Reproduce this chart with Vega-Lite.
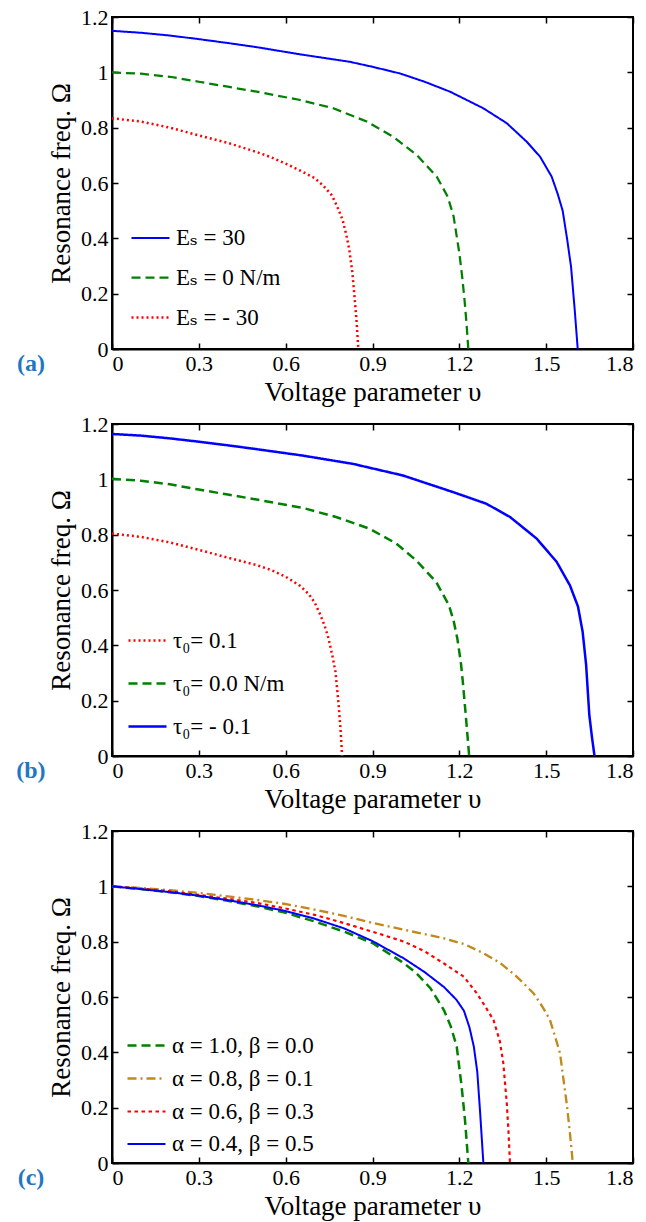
{
  "$schema": "https://vega.github.io/schema/vega-lite/v6.json",
  "padding": {"left": 15, "top": 5, "right": 5, "bottom": 5},
  "spacing": 6,
  "datasets": {
    "a": [
      {"v":0,"w":1.15,"s":"Eₛ = 30"},{"v":0.1,"w":1.143,"s":"Eₛ = 30"},{"v":0.2,"w":1.133,"s":"Eₛ = 30"},{"v":0.3,"w":1.12,"s":"Eₛ = 30"},{"v":0.4,"w":1.106,"s":"Eₛ = 30"},{"v":0.5,"w":1.091,"s":"Eₛ = 30"},{"v":0.65,"w":1.065,"s":"Eₛ = 30"},{"v":0.822,"w":1.038,"s":"Eₛ = 30"},{"v":0.9,"w":1.02,"s":"Eₛ = 30"},{"v":0.995,"w":0.996,"s":"Eₛ = 30"},{"v":1.08,"w":0.966,"s":"Eₛ = 30"},{"v":1.168,"w":0.93,"s":"Eₛ = 30"},{"v":1.283,"w":0.87,"s":"Eₛ = 30"},{"v":1.364,"w":0.816,"s":"Eₛ = 30"},{"v":1.433,"w":0.749,"s":"Eₛ = 30"},{"v":1.479,"w":0.695,"s":"Eₛ = 30"},{"v":1.519,"w":0.623,"s":"Eₛ = 30"},{"v":1.54,"w":0.56,"s":"Eₛ = 30"},{"v":1.557,"w":0.5,"s":"Eₛ = 30"},{"v":1.572,"w":0.4,"s":"Eₛ = 30"},{"v":1.586,"w":0.297,"s":"Eₛ = 30"},{"v":1.598,"w":0.15,"s":"Eₛ = 30"},{"v":1.609,"w":0,"s":"Eₛ = 30"},
      {"v":0,"w":1.0,"s":"Eₛ = 0 N/m"},{"v":0.1,"w":0.995,"s":"Eₛ = 0 N/m"},{"v":0.2,"w":0.984,"s":"Eₛ = 0 N/m"},{"v":0.3,"w":0.966,"s":"Eₛ = 0 N/m"},{"v":0.4,"w":0.948,"s":"Eₛ = 0 N/m"},{"v":0.5,"w":0.93,"s":"Eₛ = 0 N/m"},{"v":0.6,"w":0.91,"s":"Eₛ = 0 N/m"},{"v":0.65,"w":0.9,"s":"Eₛ = 0 N/m"},{"v":0.765,"w":0.87,"s":"Eₛ = 0 N/m"},{"v":0.88,"w":0.822,"s":"Eₛ = 0 N/m"},{"v":0.972,"w":0.767,"s":"Eₛ = 0 N/m"},{"v":1.053,"w":0.701,"s":"Eₛ = 0 N/m"},{"v":1.122,"w":0.623,"s":"Eₛ = 0 N/m"},{"v":1.16,"w":0.55,"s":"Eₛ = 0 N/m"},{"v":1.18,"w":0.48,"s":"Eₛ = 0 N/m"},{"v":1.2,"w":0.347,"s":"Eₛ = 0 N/m"},{"v":1.21,"w":0.26,"s":"Eₛ = 0 N/m"},{"v":1.218,"w":0.177,"s":"Eₛ = 0 N/m"},{"v":1.225,"w":0.09,"s":"Eₛ = 0 N/m"},{"v":1.231,"w":0,"s":"Eₛ = 0 N/m"},
      {"v":0,"w":0.834,"s":"Eₛ = - 30"},{"v":0.1,"w":0.822,"s":"Eₛ = - 30"},{"v":0.2,"w":0.8,"s":"Eₛ = - 30"},{"v":0.3,"w":0.772,"s":"Eₛ = - 30"},{"v":0.4,"w":0.745,"s":"Eₛ = - 30"},{"v":0.5,"w":0.712,"s":"Eₛ = - 30"},{"v":0.55,"w":0.693,"s":"Eₛ = - 30"},{"v":0.6,"w":0.67,"s":"Eₛ = - 30"},{"v":0.65,"w":0.645,"s":"Eₛ = - 30"},{"v":0.7,"w":0.618,"s":"Eₛ = - 30"},{"v":0.73,"w":0.59,"s":"Eₛ = - 30"},{"v":0.76,"w":0.555,"s":"Eₛ = - 30"},{"v":0.78,"w":0.51,"s":"Eₛ = - 30"},{"v":0.797,"w":0.466,"s":"Eₛ = - 30"},{"v":0.81,"w":0.41,"s":"Eₛ = - 30"},{"v":0.82,"w":0.358,"s":"Eₛ = - 30"},{"v":0.83,"w":0.28,"s":"Eₛ = - 30"},{"v":0.837,"w":0.2,"s":"Eₛ = - 30"},{"v":0.845,"w":0.1,"s":"Eₛ = - 30"},{"v":0.851,"w":0,"s":"Eₛ = - 30"}
    ],
    "b": [
      {"v":0,"w":1.164,"s":"τ₀= - 0.1"},{"v":0.1,"w":1.158,"s":"τ₀= - 0.1"},{"v":0.2,"w":1.148,"s":"τ₀= - 0.1"},{"v":0.3,"w":1.136,"s":"τ₀= - 0.1"},{"v":0.4,"w":1.123,"s":"τ₀= - 0.1"},{"v":0.5,"w":1.109,"s":"τ₀= - 0.1"},{"v":0.658,"w":1.086,"s":"τ₀= - 0.1"},{"v":0.832,"w":1.056,"s":"τ₀= - 0.1"},{"v":1.005,"w":1.014,"s":"τ₀= - 0.1"},{"v":1.178,"w":0.954,"s":"τ₀= - 0.1"},{"v":1.293,"w":0.912,"s":"τ₀= - 0.1"},{"v":1.375,"w":0.864,"s":"τ₀= - 0.1"},{"v":1.467,"w":0.786,"s":"τ₀= - 0.1"},{"v":1.536,"w":0.702,"s":"τ₀= - 0.1"},{"v":1.582,"w":0.617,"s":"τ₀= - 0.1"},{"v":1.61,"w":0.54,"s":"τ₀= - 0.1"},{"v":1.626,"w":0.449,"s":"τ₀= - 0.1"},{"v":1.638,"w":0.33,"s":"τ₀= - 0.1"},{"v":1.649,"w":0.149,"s":"τ₀= - 0.1"},{"v":1.658,"w":0.07,"s":"τ₀= - 0.1"},{"v":1.667,"w":0,"s":"τ₀= - 0.1"},
      {"v":0,"w":1.002,"s":"τ₀= 0.0 N/m"},{"v":0.1,"w":0.995,"s":"τ₀= 0.0 N/m"},{"v":0.2,"w":0.982,"s":"τ₀= 0.0 N/m"},{"v":0.3,"w":0.963,"s":"τ₀= 0.0 N/m"},{"v":0.4,"w":0.945,"s":"τ₀= 0.0 N/m"},{"v":0.5,"w":0.927,"s":"τ₀= 0.0 N/m"},{"v":0.658,"w":0.897,"s":"τ₀= 0.0 N/m"},{"v":0.774,"w":0.864,"s":"τ₀= 0.0 N/m"},{"v":0.889,"w":0.822,"s":"τ₀= 0.0 N/m"},{"v":0.982,"w":0.768,"s":"τ₀= 0.0 N/m"},{"v":1.051,"w":0.707,"s":"τ₀= 0.0 N/m"},{"v":1.12,"w":0.629,"s":"τ₀= 0.0 N/m"},{"v":1.164,"w":0.545,"s":"τ₀= 0.0 N/m"},{"v":1.18,"w":0.49,"s":"τ₀= 0.0 N/m"},{"v":1.193,"w":0.425,"s":"τ₀= 0.0 N/m"},{"v":1.205,"w":0.34,"s":"τ₀= 0.0 N/m"},{"v":1.212,"w":0.269,"s":"τ₀= 0.0 N/m"},{"v":1.222,"w":0.15,"s":"τ₀= 0.0 N/m"},{"v":1.234,"w":0,"s":"τ₀= 0.0 N/m"},
      {"v":0,"w":0.804,"s":"τ₀= 0.1"},{"v":0.1,"w":0.792,"s":"τ₀= 0.1"},{"v":0.2,"w":0.772,"s":"τ₀= 0.1"},{"v":0.3,"w":0.745,"s":"τ₀= 0.1"},{"v":0.4,"w":0.717,"s":"τ₀= 0.1"},{"v":0.5,"w":0.69,"s":"τ₀= 0.1"},{"v":0.55,"w":0.672,"s":"τ₀= 0.1"},{"v":0.6,"w":0.648,"s":"τ₀= 0.1"},{"v":0.65,"w":0.615,"s":"τ₀= 0.1"},{"v":0.68,"w":0.585,"s":"τ₀= 0.1"},{"v":0.7,"w":0.555,"s":"τ₀= 0.1"},{"v":0.72,"w":0.51,"s":"τ₀= 0.1"},{"v":0.735,"w":0.47,"s":"τ₀= 0.1"},{"v":0.748,"w":0.425,"s":"τ₀= 0.1"},{"v":0.762,"w":0.36,"s":"τ₀= 0.1"},{"v":0.772,"w":0.305,"s":"τ₀= 0.1"},{"v":0.783,"w":0.185,"s":"τ₀= 0.1"},{"v":0.79,"w":0.09,"s":"τ₀= 0.1"},{"v":0.795,"w":0,"s":"τ₀= 0.1"}
    ],
    "c": [
      {"v":0,"w":1.0,"s":"α = 1.0, β = 0.0"},{"v":0.1,"w":0.99,"s":"α = 1.0, β = 0.0"},{"v":0.2,"w":0.979,"s":"α = 1.0, β = 0.0"},{"v":0.3,"w":0.965,"s":"α = 1.0, β = 0.0"},{"v":0.4,"w":0.948,"s":"α = 1.0, β = 0.0"},{"v":0.5,"w":0.928,"s":"α = 1.0, β = 0.0"},{"v":0.6,"w":0.904,"s":"α = 1.0, β = 0.0"},{"v":0.7,"w":0.873,"s":"α = 1.0, β = 0.0"},{"v":0.8,"w":0.837,"s":"α = 1.0, β = 0.0"},{"v":0.9,"w":0.795,"s":"α = 1.0, β = 0.0"},{"v":1.0,"w":0.728,"s":"α = 1.0, β = 0.0"},{"v":1.05,"w":0.688,"s":"α = 1.0, β = 0.0"},{"v":1.1,"w":0.632,"s":"α = 1.0, β = 0.0"},{"v":1.147,"w":0.552,"s":"α = 1.0, β = 0.0"},{"v":1.17,"w":0.495,"s":"α = 1.0, β = 0.0"},{"v":1.191,"w":0.421,"s":"α = 1.0, β = 0.0"},{"v":1.208,"w":0.276,"s":"α = 1.0, β = 0.0"},{"v":1.22,"w":0.15,"s":"α = 1.0, β = 0.0"},{"v":1.231,"w":0,"s":"α = 1.0, β = 0.0"},
      {"v":0,"w":1.0,"s":"α = 0.8, β = 0.1"},{"v":0.1,"w":0.994,"s":"α = 0.8, β = 0.1"},{"v":0.2,"w":0.986,"s":"α = 0.8, β = 0.1"},{"v":0.3,"w":0.976,"s":"α = 0.8, β = 0.1"},{"v":0.4,"w":0.964,"s":"α = 0.8, β = 0.1"},{"v":0.5,"w":0.951,"s":"α = 0.8, β = 0.1"},{"v":0.594,"w":0.937,"s":"α = 0.8, β = 0.1"},{"v":0.7,"w":0.916,"s":"α = 0.8, β = 0.1"},{"v":0.802,"w":0.893,"s":"α = 0.8, β = 0.1"},{"v":0.9,"w":0.868,"s":"α = 0.8, β = 0.1"},{"v":1.009,"w":0.843,"s":"α = 0.8, β = 0.1"},{"v":1.147,"w":0.812,"s":"α = 0.8, β = 0.1"},{"v":1.22,"w":0.79,"s":"α = 0.8, β = 0.1"},{"v":1.28,"w":0.76,"s":"α = 0.8, β = 0.1"},{"v":1.341,"w":0.723,"s":"α = 0.8, β = 0.1"},{"v":1.4,"w":0.672,"s":"α = 0.8, β = 0.1"},{"v":1.456,"w":0.614,"s":"α = 0.8, β = 0.1"},{"v":1.49,"w":0.56,"s":"α = 0.8, β = 0.1"},{"v":1.513,"w":0.517,"s":"α = 0.8, β = 0.1"},{"v":1.53,"w":0.46,"s":"α = 0.8, β = 0.1"},{"v":1.548,"w":0.396,"s":"α = 0.8, β = 0.1"},{"v":1.56,"w":0.3,"s":"α = 0.8, β = 0.1"},{"v":1.571,"w":0.215,"s":"α = 0.8, β = 0.1"},{"v":1.582,"w":0.11,"s":"α = 0.8, β = 0.1"},{"v":1.592,"w":0,"s":"α = 0.8, β = 0.1"},
      {"v":0,"w":1.0,"s":"α = 0.6, β = 0.3"},{"v":0.1,"w":0.992,"s":"α = 0.6, β = 0.3"},{"v":0.2,"w":0.982,"s":"α = 0.6, β = 0.3"},{"v":0.3,"w":0.969,"s":"α = 0.6, β = 0.3"},{"v":0.4,"w":0.955,"s":"α = 0.6, β = 0.3"},{"v":0.5,"w":0.94,"s":"α = 0.6, β = 0.3"},{"v":0.594,"w":0.921,"s":"α = 0.6, β = 0.3"},{"v":0.7,"w":0.897,"s":"α = 0.6, β = 0.3"},{"v":0.802,"w":0.867,"s":"α = 0.6, β = 0.3"},{"v":0.9,"w":0.836,"s":"α = 0.6, β = 0.3"},{"v":1.009,"w":0.8,"s":"α = 0.6, β = 0.3"},{"v":1.08,"w":0.765,"s":"α = 0.6, β = 0.3"},{"v":1.147,"w":0.721,"s":"α = 0.6, β = 0.3"},{"v":1.216,"w":0.673,"s":"α = 0.6, β = 0.3"},{"v":1.26,"w":0.614,"s":"α = 0.6, β = 0.3"},{"v":1.29,"w":0.565,"s":"α = 0.6, β = 0.3"},{"v":1.318,"w":0.517,"s":"α = 0.6, β = 0.3"},{"v":1.34,"w":0.44,"s":"α = 0.6, β = 0.3"},{"v":1.352,"w":0.36,"s":"α = 0.6, β = 0.3"},{"v":1.364,"w":0.215,"s":"α = 0.6, β = 0.3"},{"v":1.37,"w":0.11,"s":"α = 0.6, β = 0.3"},{"v":1.375,"w":0,"s":"α = 0.6, β = 0.3"},
      {"v":0,"w":1.0,"s":"α = 0.4, β = 0.5"},{"v":0.1,"w":0.99,"s":"α = 0.4, β = 0.5"},{"v":0.2,"w":0.979,"s":"α = 0.4, β = 0.5"},{"v":0.3,"w":0.966,"s":"α = 0.4, β = 0.5"},{"v":0.4,"w":0.95,"s":"α = 0.4, β = 0.5"},{"v":0.5,"w":0.932,"s":"α = 0.4, β = 0.5"},{"v":0.594,"w":0.912,"s":"α = 0.4, β = 0.5"},{"v":0.7,"w":0.883,"s":"α = 0.4, β = 0.5"},{"v":0.802,"w":0.848,"s":"α = 0.4, β = 0.5"},{"v":0.9,"w":0.802,"s":"α = 0.4, β = 0.5"},{"v":1.009,"w":0.739,"s":"α = 0.4, β = 0.5"},{"v":1.08,"w":0.69,"s":"α = 0.4, β = 0.5"},{"v":1.147,"w":0.636,"s":"α = 0.4, β = 0.5"},{"v":1.19,"w":0.59,"s":"α = 0.4, β = 0.5"},{"v":1.216,"w":0.55,"s":"α = 0.4, β = 0.5"},{"v":1.235,"w":0.49,"s":"α = 0.4, β = 0.5"},{"v":1.25,"w":0.421,"s":"α = 0.4, β = 0.5"},{"v":1.262,"w":0.33,"s":"α = 0.4, β = 0.5"},{"v":1.272,"w":0.18,"s":"α = 0.4, β = 0.5"},{"v":1.283,"w":0,"s":"α = 0.4, β = 0.5"}
    ],
    "one": [{}]
  },
  "resolve": {"scale": {"x": "independent", "y": "independent", "color": "independent", "strokeDash": "independent", "strokeWidth": "independent"}},
  "vconcat": [
    {
      "width": 521, "height": 332,
      "resolve": {"axis": {"x": "independent", "y": "independent"}},
      "layer": [
        {
          "data": {"name": "a"},
          "mark": {"type": "line", "clip": true},
          "encoding": {
            "x": {"field": "v", "type": "quantitative", "scale": {"domain": [0, 1.8], "nice": false, "zero": false}, "axis": {"orient": "bottom", "values": [0, 0.3, 0.6, 0.9, 1.2, 1.5, 1.8], "format": "~g", "title": "Voltage parameter υ"}},
            "y": {"field": "w", "type": "quantitative", "scale": {"domain": [0, 1.2], "nice": false}, "axis": {"orient": "left", "values": [0, 0.2, 0.4, 0.6, 0.8, 1, 1.2], "format": "~g", "title": "Resonance freq.  Ω"}},
            "color": {"field": "s", "type": "nominal", "scale": {"domain": ["Eₛ = 30", "Eₛ = 0 N/m", "Eₛ = - 30"], "range": ["#0000FF", "#008000", "#FF0000"]}, "legend": {"orient": "none", "legendX": 18, "legendY": 201, "title": null, "rowPadding": 7}},
            "strokeDash": {"field": "s", "type": "nominal", "scale": {"domain": ["Eₛ = 30", "Eₛ = 0 N/m", "Eₛ = - 30"], "range": [[1, 0], [9, 5], [2, 3]]}, "legend": {"orient": "none", "legendX": 18, "legendY": 201, "title": null, "rowPadding": 7}},
            "strokeWidth": {"field": "s", "type": "nominal", "scale": {"domain": ["Eₛ = 30", "Eₛ = 0 N/m", "Eₛ = - 30"], "range": [2, 2.5, 2.5]}, "legend": null}
          }
        },
        {
          "data": {"name": "a"},
          "mark": {"type": "point", "opacity": 0},
          "encoding": {
            "x": {"field": "v", "type": "quantitative", "axis": {"orient": "top", "values": [0, 0.3, 0.6, 0.9, 1.2, 1.5, 1.8], "labels": false, "title": null, "domain": false}},
            "y": {"field": "w", "type": "quantitative", "axis": {"orient": "right", "values": [0, 0.2, 0.4, 0.6, 0.8, 1, 1.2], "labels": false, "title": null, "domain": false}}
          }
        },
        {
          "data": {"name": "one"},
          "mark": {"type": "text", "text": "(a)", "font": "Liberation Serif, Times New Roman, DejaVu Serif, serif", "fontSize": 24, "fontWeight": "bold", "color": "#1F77C4", "baseline": "middle", "align": "center"},
          "encoding": {
            "x": {"datum": -0.28, "type": "quantitative", "axis": null},
            "y": {"datum": -0.055, "type": "quantitative", "axis": null}
          }
        }
      ]
    },
    {
      "width": 521, "height": 332,
      "resolve": {"axis": {"x": "independent", "y": "independent"}},
      "layer": [
        {
          "data": {"name": "b"},
          "mark": {"type": "line", "clip": true},
          "encoding": {
            "x": {"field": "v", "type": "quantitative", "scale": {"domain": [0, 1.8], "nice": false, "zero": false}, "axis": {"orient": "bottom", "values": [0, 0.3, 0.6, 0.9, 1.2, 1.5, 1.8], "format": "~g", "title": "Voltage parameter υ"}},
            "y": {"field": "w", "type": "quantitative", "scale": {"domain": [0, 1.2], "nice": false}, "axis": {"orient": "left", "values": [0, 0.2, 0.4, 0.6, 0.8, 1, 1.2], "format": "~g", "title": "Resonance freq.  Ω"}},
            "color": {"field": "s", "type": "nominal", "scale": {"domain": ["τ₀= 0.1", "τ₀= 0.0 N/m", "τ₀= - 0.1"], "range": ["#FF0000", "#008000", "#0000FF"]}, "legend": {"orient": "none", "legendX": 15, "legendY": 196, "title": null, "rowPadding": 10}},
            "strokeDash": {"field": "s", "type": "nominal", "scale": {"domain": ["τ₀= 0.1", "τ₀= 0.0 N/m", "τ₀= - 0.1"], "range": [[2, 3], [9, 5], [1, 0]]}, "legend": {"orient": "none", "legendX": 15, "legendY": 196, "title": null, "rowPadding": 10}},
            "strokeWidth": {"field": "s", "type": "nominal", "scale": {"domain": ["τ₀= 0.1", "τ₀= 0.0 N/m", "τ₀= - 0.1"], "range": [2.5, 2.5, 2]}, "legend": null}
          }
        },
        {
          "data": {"name": "b"},
          "mark": {"type": "point", "opacity": 0},
          "encoding": {
            "x": {"field": "v", "type": "quantitative", "axis": {"orient": "top", "values": [0, 0.3, 0.6, 0.9, 1.2, 1.5, 1.8], "labels": false, "title": null, "domain": false}},
            "y": {"field": "w", "type": "quantitative", "axis": {"orient": "right", "values": [0, 0.2, 0.4, 0.6, 0.8, 1, 1.2], "labels": false, "title": null, "domain": false}}
          }
        },
        {
          "data": {"name": "one"},
          "mark": {"type": "text", "text": "(b)", "font": "Liberation Serif, Times New Roman, DejaVu Serif, serif", "fontSize": 24, "fontWeight": "bold", "color": "#1F77C4", "baseline": "middle", "align": "center"},
          "encoding": {
            "x": {"datum": -0.28, "type": "quantitative", "axis": null},
            "y": {"datum": -0.055, "type": "quantitative", "axis": null}
          }
        }
      ]
    },
    {
      "width": 521, "height": 332,
      "resolve": {"axis": {"x": "independent", "y": "independent"}},
      "layer": [
        {
          "data": {"name": "c"},
          "mark": {"type": "line", "clip": true},
          "encoding": {
            "x": {"field": "v", "type": "quantitative", "scale": {"domain": [0, 1.8], "nice": false, "zero": false}, "axis": {"orient": "bottom", "values": [0, 0.3, 0.6, 0.9, 1.2, 1.5, 1.8], "format": "~g", "title": "Voltage parameter υ"}},
            "y": {"field": "w", "type": "quantitative", "scale": {"domain": [0, 1.2], "nice": false}, "axis": {"orient": "left", "values": [0, 0.2, 0.4, 0.6, 0.8, 1, 1.2], "format": "~g", "title": "Resonance freq.  Ω"}},
            "color": {"field": "s", "type": "nominal", "scale": {"domain": ["α = 1.0, β = 0.0", "α = 0.8, β = 0.1", "α = 0.6, β = 0.3", "α = 0.4, β = 0.5"], "range": ["#008000", "#C08A1A", "#FF0000", "#0000FF"]}, "legend": {"orient": "none", "legendX": 14, "legendY": 194, "title": null, "rowPadding": 0}},
            "strokeDash": {"field": "s", "type": "nominal", "scale": {"domain": ["α = 1.0, β = 0.0", "α = 0.8, β = 0.1", "α = 0.6, β = 0.3", "α = 0.4, β = 0.5"], "range": [[9, 5], [9, 4, 2, 4], [3.5, 3.5], [1, 0]]}, "legend": {"orient": "none", "legendX": 14, "legendY": 194, "title": null, "rowPadding": 0}},
            "strokeWidth": {"field": "s", "type": "nominal", "scale": {"domain": ["α = 1.0, β = 0.0", "α = 0.8, β = 0.1", "α = 0.6, β = 0.3", "α = 0.4, β = 0.5"], "range": [2.5, 2, 4, 2.5]}, "legend": null}
          }
        },
        {
          "data": {"name": "c"},
          "mark": {"type": "point", "opacity": 0},
          "encoding": {
            "x": {"field": "v", "type": "quantitative", "axis": {"orient": "top", "values": [0, 0.3, 0.6, 0.9, 1.2, 1.5, 1.8], "labels": false, "title": null, "domain": false}},
            "y": {"field": "w", "type": "quantitative", "axis": {"orient": "right", "values": [0, 0.2, 0.4, 0.6, 0.8, 1, 1.2], "labels": false, "title": null, "domain": false}}
          }
        },
        {
          "data": {"name": "one"},
          "mark": {"type": "text", "text": "(c)", "font": "Liberation Serif, Times New Roman, DejaVu Serif, serif", "fontSize": 24, "fontWeight": "bold", "color": "#1F77C4", "baseline": "middle", "align": "center"},
          "encoding": {
            "x": {"datum": -0.28, "type": "quantitative", "axis": null},
            "y": {"datum": -0.055, "type": "quantitative", "axis": null}
          }
        }
      ]
    }
  ],
  "config": {
    "font": "Liberation Serif, Times New Roman, DejaVu Serif, serif",
    "background": "#ffffff",
    "view": {"stroke": "#000000", "strokeWidth": 2},
    "text": {"font": "Liberation Serif, Times New Roman, DejaVu Serif, serif"},
    "axis": {
      "grid": false,
      "labelFont": "Liberation Serif, Times New Roman, DejaVu Serif, serif", "labelFontSize": 22, "labelColor": "#000000",
      "titleFont": "Liberation Serif, Times New Roman, DejaVu Serif, serif", "titleFontSize": 27, "titleFontWeight": "normal", "titleColor": "#000000",
      "domainColor": "#000000", "domainWidth": 2,
      "tickColor": "#000000", "tickWidth": 1.5, "tickSize": -6,
      "labelPadding": 10, "titlePadding": 5
    },
    "legend": {
      "symbolType": "stroke", "symbolSize": 1444, "symbolStrokeWidth": 2.5,
      "labelFont": "Liberation Serif, Times New Roman, DejaVu Serif, serif", "labelFontSize": 23, "labelColor": "#000000", "labelOffset": 5, "labelLimit": 400,
      "padding": 0
    }
  }
}
